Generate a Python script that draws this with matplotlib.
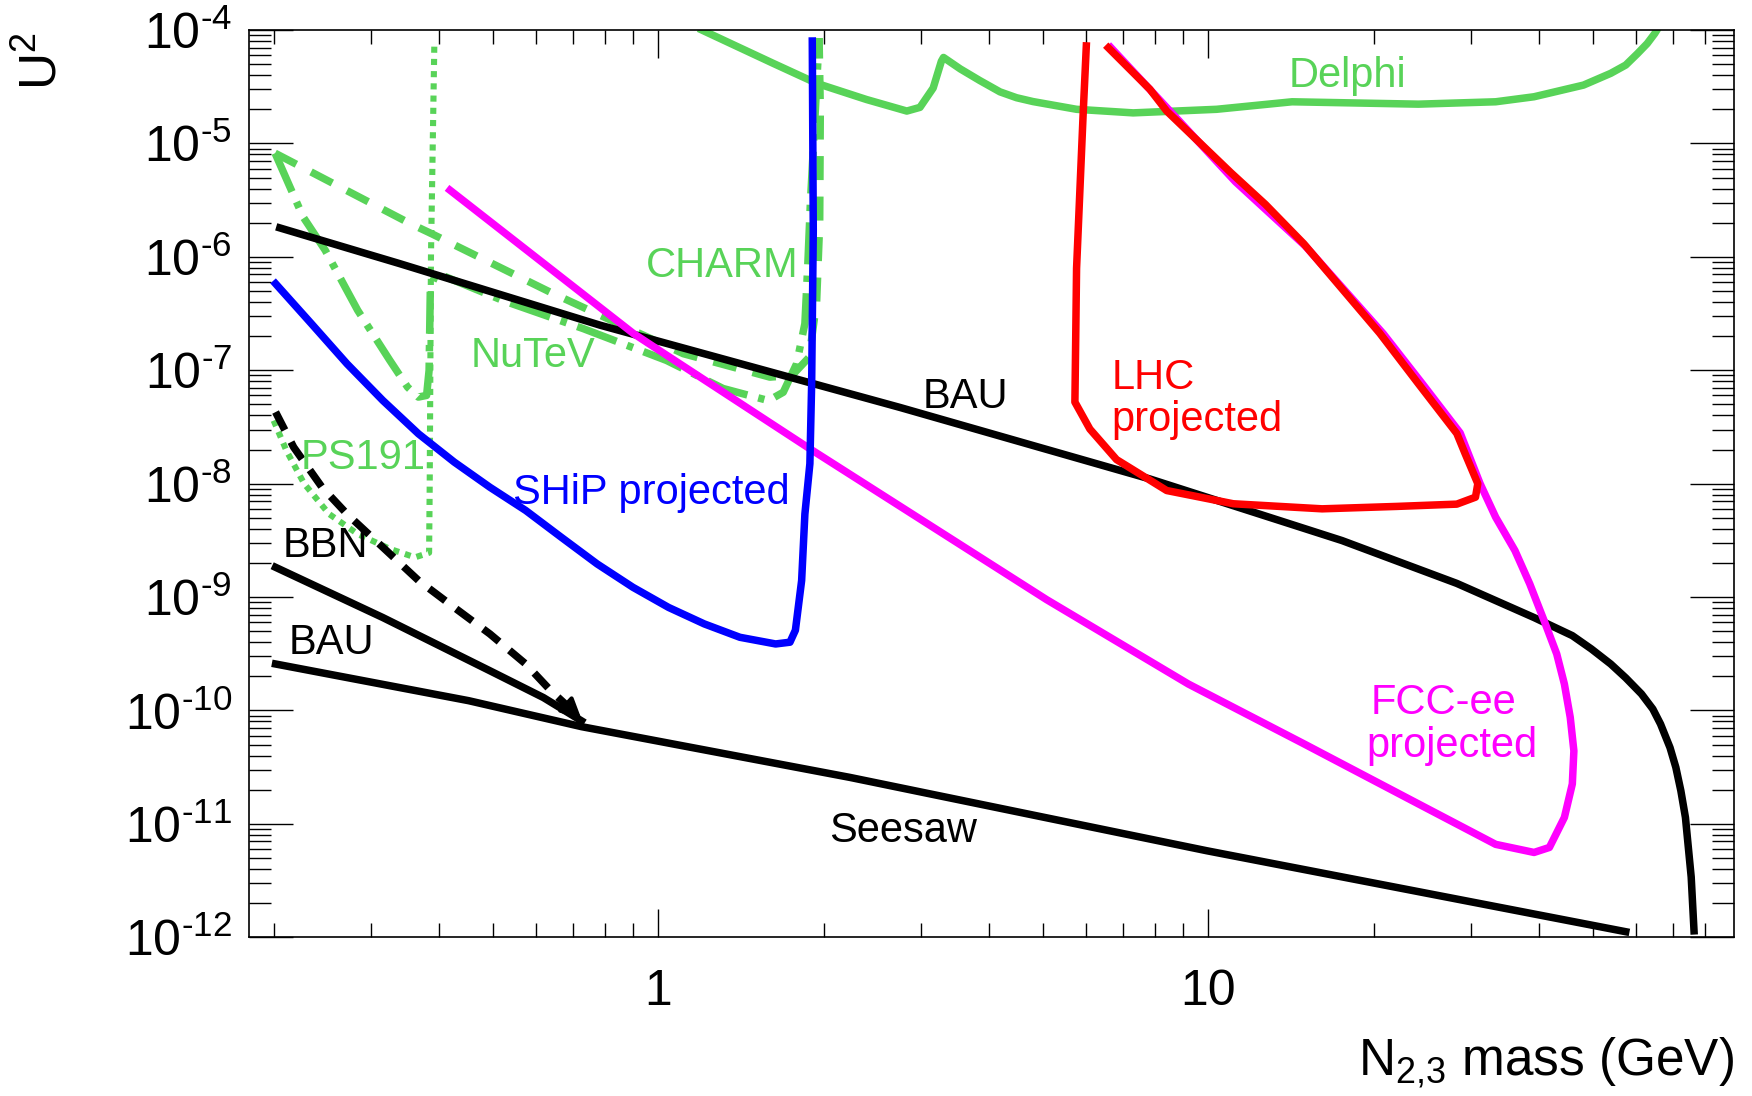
import matplotlib
matplotlib.use('Agg')
import matplotlib.pyplot as plt
from matplotlib.ticker import FixedLocator, NullFormatter

plt.rcParams['font.family'] = ['Liberation Sans', 'DejaVu Sans']
plt.rcParams['mathtext.fontset'] = 'custom'
plt.rcParams['mathtext.rm'] = 'Liberation Sans'
plt.rcParams['mathtext.it'] = 'Liberation Sans:italic'
plt.rcParams['mathtext.bf'] = 'Liberation Sans:bold'

GREEN = '#58d358'

# ---- data (mass in GeV, U^2) ----
delphi_m = [1.2, 1.618, 1.94, 2.39, 2.83, 2.99, 3.16, 3.27, 3.30, 3.54, 3.84, 4.18, 4.48,
            4.8, 5.76, 7.3, 10.35, 14.2, 24.1, 33.3, 39.1, 48.1, 53.9, 57.4, 60.3, 62.8,
            64.8, 65.4]
delphi_u = [1.0e-4, 5.08e-5, 3.39e-5, 2.44e-5, 1.93e-5, 2.08e-5, 3.08e-5, 5.3e-5, 5.73e-5,
            4.54e-5, 3.59e-5, 2.85e-5, 2.53e-5, 2.34e-5, 2.0e-5, 1.86e-5, 2.0e-5, 2.33e-5,
            2.22e-5, 2.33e-5, 2.58e-5, 3.27e-5, 4.15e-5, 4.91e-5, 6.2e-5, 7.6e-5, 9.3e-5,
            1.0e-4]

charm_m = [0.201, 0.226, 0.248, 0.284, 0.325, 0.350, 0.366, 0.379, 0.383, 0.385, 0.395,
           0.523, 0.73, 1.035, 1.312, 1.586, 1.687, 1.784, 1.847, 1.87, 1.89, 1.93, 1.96]
charm_u = [8.2e-6, 2.25e-6, 1.14e-6, 3.38e-7, 1.22e-7, 7.1e-8, 5.8e-8, 6.0e-8, 1.0e-7,
           5.4e-7, 7.2e-7, 4.1e-7, 2.33e-7, 1.22e-7, 6.9e-8, 5.4e-8, 6.4e-8, 1.14e-7,
           2.58e-7, 8.7e-7, 3.0e-6, 2.0e-5, 8.5e-5]

nutev_m = [0.201, 0.3535, 0.387, 0.635, 1.11, 1.595, 1.75, 1.88, 1.94, 1.965, 1.97, 1.96]
nutev_u = [8.2e-6, 1.97e-6, 1.6e-6, 4.9e-7, 1.4e-7, 8.7e-8, 9.0e-8, 1.3e-7, 4.0e-7,
           2.0e-6, 2.0e-5, 8.5e-5]

ps191_m = [0.1998, 0.2107, 0.227, 0.252, 0.284, 0.325, 0.361, 0.383, 0.384, 0.386, 0.3915]
ps191_u = [3.6e-8, 1.96e-8, 1.0e-8, 5.4e-9, 3.6e-9, 2.66e-9, 2.24e-9, 2.46e-9, 1.0e-8,
           1.0e-6, 7.6e-5]

bau_m = [0.205, 0.339, 0.783, 2.75, 7.83, 17.5, 28.3, 39.1, 45.9, 49.7, 53.9, 57.4, 61.3,
         64.3, 66.4, 69.1, 70.8, 72.3, 73.7, 74.6, 75.5, 76.4]
bau_u = [1.8e-6, 8.7e-7, 2.5e-7, 4.7e-8, 1.1e-8, 3.15e-9, 1.32e-9, 6.6e-10, 4.57e-10,
         3.49e-10, 2.57e-10, 1.94e-10, 1.4e-10, 1.03e-10, 7.6e-11, 4.7e-11, 3.15e-11,
         1.96e-11, 1.14e-11, 6.2e-12, 3.4e-12, 1.14e-12]

seesaw_m = [0.2014, 0.452, 0.725, 2.23, 9.93, 57.4]
seesaw_u = [2.57e-10, 1.22e-10, 7.2e-11, 2.57e-11, 5.8e-12, 1.12e-12]

bbn_m = [0.2014, 0.3155, 0.494, 0.618, 0.725]
bbn_u = [1.83e-9, 6.6e-10, 2.24e-10, 1.3e-10, 8.1e-11]

bbn_dash_m = [0.2014, 0.2172, 0.2446, 0.2716, 0.3155, 0.3664, 0.4255, 0.494, 0.574, 0.637,
              0.69]
bbn_dash_u = [4.28e-8, 2.1e-8, 9.3e-9, 5.4e-9, 2.75e-9, 1.4e-9, 8.1e-10, 4.73e-10,
              2.57e-10, 1.5e-10, 1.05e-10]
bbn_tip = (0.725, 8.4e-11)

ship_m = [0.2014, 0.2339, 0.2716, 0.3155, 0.3664, 0.4255, 0.494, 0.574, 0.666, 0.774,
          0.899, 1.044, 1.212, 1.407, 1.634, 1.735, 1.775, 1.822, 1.847, 1.886, 1.9,
          1.913, 1.905]
ship_u = [5.8e-7, 2.58e-7, 1.14e-7, 5.42e-8, 2.75e-8, 1.55e-8, 9.3e-9, 5.8e-9, 3.37e-9,
          1.96e-9, 1.22e-9, 8.1e-10, 5.8e-10, 4.42e-10, 3.86e-10, 4.0e-10, 5.1e-10,
          1.4e-9, 5.4e-9, 1.5e-8, 7.6e-8, 1.7e-6, 8.0e-5]

fcc_m = [6.65, 8.5, 11.2, 15.0, 20.8, 24.5, 28.7, 31.2, 33.3, 36.1, 38.4, 41.0, 43.0,
         44.4, 45.5, 46.2, 45.9, 44.4, 41.7, 39.1, 33.3, 24.1, 14.9, 9.2, 5.08, 1.886,
         0.902, 0.418]
fcc_u = [7.0e-5, 1.95e-5, 4.6e-6, 1.25e-6, 2.1e-7, 7.6e-8, 2.8e-8, 1.0e-8, 5.06e-9,
         2.57e-9, 1.31e-9, 5.8e-10, 3.15e-10, 1.71e-10, 8.7e-11, 4.4e-11, 2.25e-11,
         1.14e-11, 6.2e-12, 5.6e-12, 6.6e-12, 1.5e-11, 5.1e-11, 1.71e-10, 9.5e-10,
         2.03e-8, 2.1e-7, 3.87e-6]

lhc_m = [6.0, 5.92, 5.76, 5.74, 5.72, 6.09, 6.81, 8.4, 11.1, 16.1, 22.0, 28.3, 30.6,
         30.9, 29.3, 28.3, 24.1, 20.5, 14.9, 12.7, 11.0, 8.4, 7.83, 6.58]
lhc_u = [7.24e-5, 1.79e-5, 7.9e-7, 2.0e-7, 5.24e-8, 3.03e-8, 1.63e-8, 8.7e-9, 6.65e-9,
         6.0e-9, 6.3e-9, 6.6e-9, 7.6e-9, 1.0e-8, 1.84e-8, 2.77e-8, 7.6e-8, 2.12e-7,
         1.31e-6, 2.9e-6, 5.5e-6, 1.93e-5, 3.0e-5, 6.97e-5]

xmajor = [1, 10]
xmajor_labels = ['1', '10']
xminor = [0.2, 0.3, 0.4, 0.5, 0.6, 0.7, 0.8, 0.9, 2, 3, 4, 5, 6, 7, 8, 9,
          20, 30, 40, 50, 60, 70, 80]
yexp = [-12, -11, -10, -9, -8, -7, -6, -5, -4]

fig = plt.figure(figsize=(17.52, 10.96), dpi=100)
ax = fig.add_axes([0.1419, 0.1448, 0.8478, 0.8278])
ax.set_xscale('log')
ax.set_yscale('log')

lw = 5.4
ax.plot(delphi_m, delphi_u, color=GREEN, lw=lw, solid_joinstyle='round')
ax.plot(charm_m, charm_u, color=GREEN, lw=lw, dashes=(5.6, 1.5, 0.85, 1.5))
ax.plot(nutev_m, nutev_u, color=GREEN, lw=lw, dashes=(3.2, 2.2))
ax.plot(ps191_m, ps191_u, color=GREEN, lw=4.4, dashes=(1.0, 1.0))

ax.plot(bau_m, bau_u, color='black', lw=lw, solid_joinstyle='round')
ax.plot(seesaw_m, seesaw_u, color='black', lw=lw)
ax.plot(bbn_m, bbn_u, color='black', lw=lw)
ax.plot(bbn_dash_m, bbn_dash_u, color='black', lw=lw, dashes=(2.7, 1.8))
ax.annotate('', xy=bbn_tip, xytext=(bbn_dash_m[-1], bbn_dash_u[-1]),
            arrowprops=dict(arrowstyle='-|>,head_length=1.0,head_width=0.5',
                            color='black', lw=3, shrinkA=0, shrinkB=0,
                            mutation_scale=12))

ax.plot(fcc_m, fcc_u, color='#ff00ff', lw=lw, solid_joinstyle='round')
ax.plot(ship_m, ship_u, color='#0000ff', lw=lw, solid_joinstyle='round')
ax.plot(lhc_m, lhc_u, color='#ff0000', lw=lw, solid_joinstyle='round')

fs = 30
ax.text(17.9, 3.16e-5, 'Delphi', color=GREEN, fontsize=fs, ha='center', va='baseline')
ax.text(1.308, 6.65e-7, 'CHARM', color=GREEN, fontsize=fs, ha='center', va='baseline')
ax.text(0.592, 1.07e-7, 'NuTeV', color=GREEN, fontsize=fs, ha='center', va='baseline')
ax.text(0.291, 1.35e-8, 'PS191', color=GREEN, fontsize=fs, ha='center', va='baseline')
ax.text(0.971, 6.65e-9, 'SHiP projected', color='#0000ff', fontsize=fs, ha='center', va='baseline')
ax.text(0.248, 2.24e-9, 'BBN', color='black', fontsize=fs, ha='center', va='baseline')
ax.text(0.254, 3.16e-10, 'BAU', color='black', fontsize=fs, ha='center', va='baseline')
ax.text(3.61, 4.64e-8, 'BAU', color='black', fontsize=fs, ha='center', va='baseline')
ax.text(2.78, 6.86e-12, 'Seesaw', color='black', fontsize=fs, ha='center', va='baseline')
ax.text(6.67, 6.87e-8, 'LHC', color='#ff0000', fontsize=fs, ha='left', va='baseline')
ax.text(6.67, 2.92e-8, 'projected', color='#ff0000', fontsize=fs, ha='left', va='baseline')
ax.text(19.7, 9.3e-11, 'FCC-ee', color='#ff00ff', fontsize=fs, ha='left', va='baseline')
ax.text(19.4, 3.86e-11, 'projected', color='#ff00ff', fontsize=fs, ha='left', va='baseline')

ax.set_xlim(0.1799, 90.3)
ax.set_ylim(1e-12, 1e-4)

ax.xaxis.set_major_locator(FixedLocator(xmajor))
ax.xaxis.set_minor_locator(FixedLocator(xminor))
ax.set_xticklabels(xmajor_labels)
ax.xaxis.set_minor_formatter(NullFormatter())
ax.yaxis.set_major_locator(FixedLocator([10.0 ** e for e in yexp]))
ax.yaxis.set_minor_locator(FixedLocator([m * 10.0 ** e for e in yexp[:-1] for m in range(2, 10)]))
ax.set_yticklabels([r'$\mathregular{10^{\text{-%d}}}$' % -e for e in yexp])
ax.yaxis.set_minor_formatter(NullFormatter())

ax.tick_params(axis='x', which='major', direction='in', length=20, width=1,
               top=True, labelsize=36, pad=23)
ax.tick_params(axis='x', which='minor', direction='in', length=10, width=1, top=True)
ax.tick_params(axis='y', which='major', direction='in', length=32, width=1,
               right=True, labelsize=36, pad=12)
ax.tick_params(axis='y', which='minor', direction='in', length=16, width=1, right=True)
for s in ax.spines.values():
    s.set_linewidth(1.2)

fig.text(0.9897, 1 - 1075 / 1096, r'N$_{\text{2,3}}$ mass (GeV)', fontsize=37,
         ha='right', va='baseline')
fig.text(0.0245, 0.9708, r'U$^{\text{2}}$', fontsize=37, rotation=90,
         ha='center', va='top')

fig.savefig('out.png', dpi=100)
